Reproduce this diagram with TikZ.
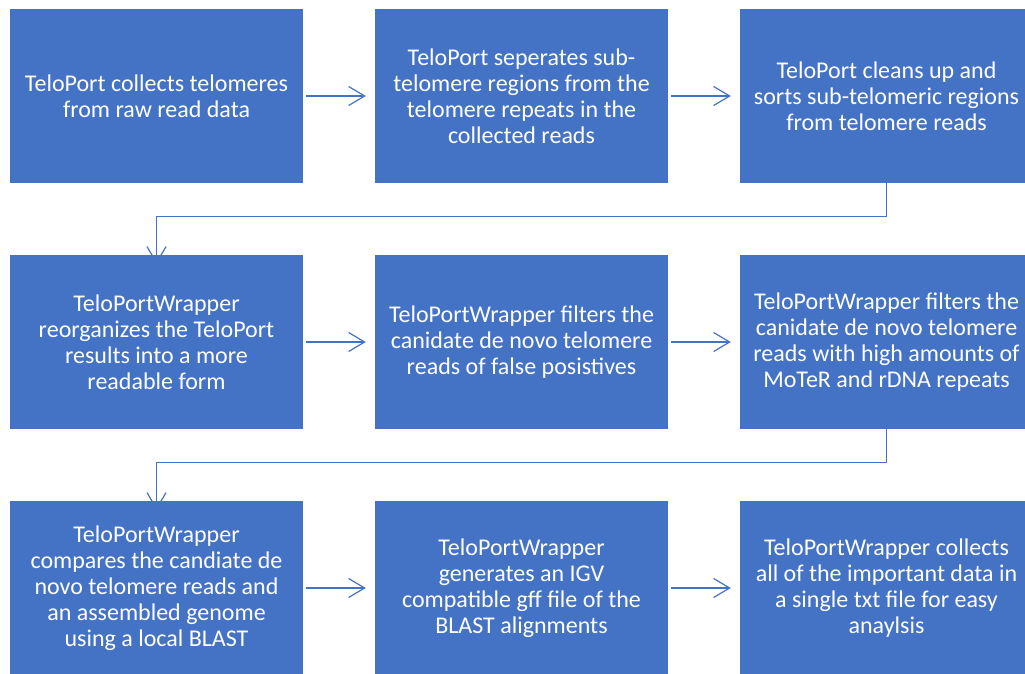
\documentclass[tikz,border=0pt]{standalone}
\usepackage{fontspec}
\setmainfont{Carlito}
\usetikzlibrary{arrows.meta}
\definecolor{boxblue}{HTML}{4472C4}
\tikzset{
  stepbox/.style={fill=boxblue, draw=none, text=white, minimum width=293pt, minimum height=174pt,
    align=center, inner sep=0pt, font=\fontsize{24pt}{26pt}\selectfont},
  conn/.style={draw=boxblue, line width=1.2pt, -{Straight Barb[length=16pt,width=19pt,line width=1.2pt]}},
}
\begin{document}
\begin{tikzpicture}[x=1pt,y=-1pt]
\useasboundingbox (0,0) rectangle (1025,673);
\clip (0,0) rectangle (1025,673);
\fill[white] (0,0) rectangle (1025,673);
\node[stepbox] (b1) at (156.5,96) {TeloPort collects telomeres\\from raw read data};
\node[stepbox] (b2) at (521.5,96) {TeloPort seperates sub-\\telomere regions from the\\telomere repeats in the\\collected reads};
\node[stepbox] (b3) at (886.5,96) {TeloPort cleans up and\\sorts sub-telomeric regions\\from telomere reads};
\node[stepbox] (b4) at (156.5,342) {TeloPortWrapper\\reorganizes the TeloPort\\results into a more\\readable form};
\node[stepbox] (b5) at (521.5,342) {TeloPortWrapper filters the\\canidate de novo telomere\\reads of false posistives};
\node[stepbox] (b6) at (886.5,342) {TeloPortWrapper filters the\\canidate de novo telomere\\reads with high amounts of\\MoTeR and rDNA repeats};
\node[stepbox] (b7) at (156.5,588) {TeloPortWrapper\\compares the candiate de\\novo telomere reads and\\an assembled genome\\using a local BLAST};
\node[stepbox] (b8) at (521.5,588) {TeloPortWrapper\\generates an IGV\\compatible gff file of the\\BLAST alignments};
\node[stepbox] (b9) at (886.5,588) {TeloPortWrapper collects\\all of the important data in\\a single txt file for easy\\anaylsis};
\draw[conn] ([xshift=3pt]b1.east) -- ([xshift=-9pt]b2.west);
\draw[conn] ([xshift=3pt]b2.east) -- ([xshift=-9pt]b3.west);
\draw[conn] ([xshift=3pt]b4.east) -- ([xshift=-9pt]b5.west);
\draw[conn] ([xshift=3pt]b5.east) -- ([xshift=-9pt]b6.west);
\draw[conn] ([xshift=3pt]b7.east) -- ([xshift=-9pt]b8.west);
\draw[conn] ([xshift=3pt]b8.east) -- ([xshift=-9pt]b9.west);
\draw[conn] ([yshift=3pt]b3.south) -- ++(0,36) -| ([yshift=-9pt]b4.north);
\draw[conn] ([yshift=3pt]b6.south) -- ++(0,36) -| ([yshift=-9pt]b7.north);
\end{tikzpicture}
\end{document}
